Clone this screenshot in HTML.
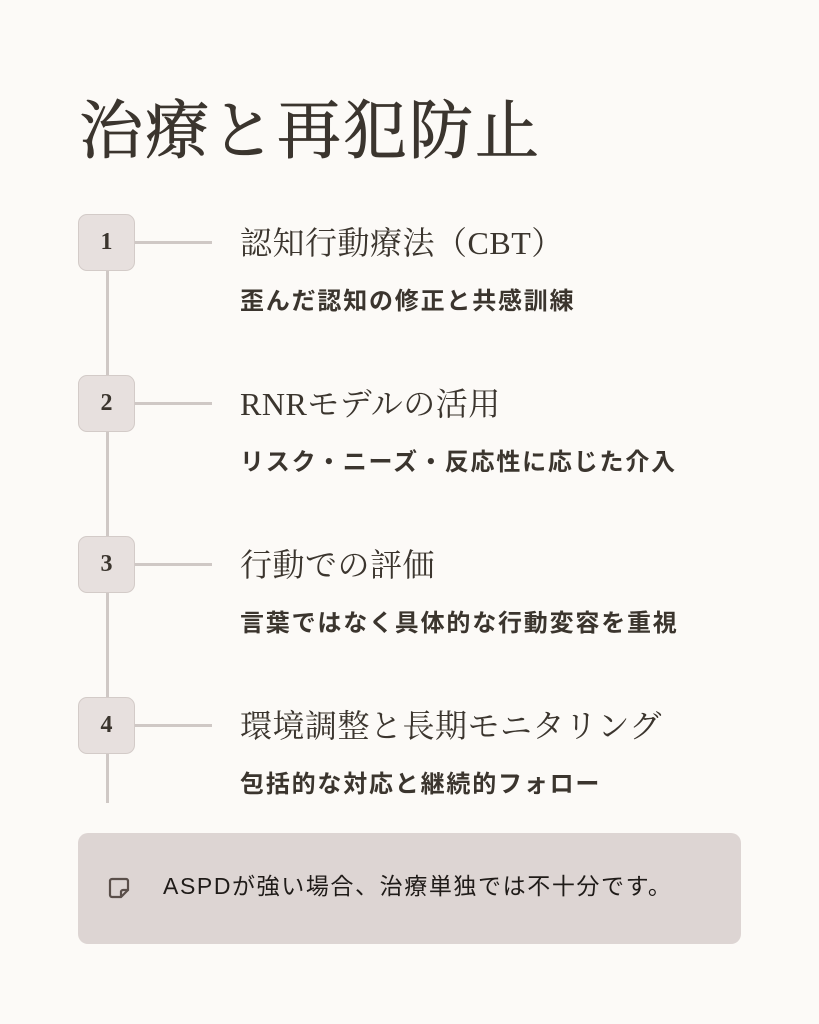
<!DOCTYPE html>
<html><head><meta charset="utf-8"><style>
body{margin:0;width:819px;height:1024px;background:#fcfaf7;position:relative;overflow:hidden;color:#3b352e}
.t{position:absolute;left:79px;top:80px;font:400 64px "Liberation Serif","Noto Serif CJK SC",serif;letter-spacing:2px;color:#3b352e;white-space:nowrap;-webkit-text-stroke:0.8px #3b352e}
.vl{position:absolute;left:106px;top:260px;width:3px;height:543px;background:#cfc8c5}
.box{position:absolute;left:78px;width:57px;height:57px;background:#e7e0de;border:1px solid #d3cbc8;border-radius:9px;box-sizing:border-box;font:700 24px "Liberation Serif",serif;color:#3b352e;display:flex;align-items:center;justify-content:center}
.hl{position:absolute;left:135px;width:77px;height:3px;background:#cfc8c5}
.st{position:absolute;left:240px;font:400 32px "Liberation Serif","Noto Serif CJK SC",serif;white-space:nowrap;line-height:1;color:#3b352e;letter-spacing:0.5px}
.sb{position:absolute;left:240px;font:700 24px "Liberation Sans","Noto Sans CJK JP",sans-serif;white-space:nowrap;line-height:1;color:#3b352e;letter-spacing:1.8px}
.note{position:absolute;left:78px;top:833px;width:663px;height:111px;background:#ddd5d3;border-radius:10px}
.nt{position:absolute;left:163px;top:875px;font:400 23px "Liberation Sans","Noto Sans CJK JP",sans-serif;white-space:nowrap;line-height:1;color:#1f1b18;letter-spacing:1.6px}
</style></head><body>
<div class="t">治療と再犯防止</div>
<div class="vl"></div>
<div class="hl" style="top:241px"></div><div class="box" style="top:214px">1</div>
<div class="st" style="top:227px">認知行動療法（CBT）</div>
<div class="sb" style="top:290px">歪んだ認知の修正と共感訓練</div>
<div class="hl" style="top:402px"></div><div class="box" style="top:375px">2</div>
<div class="st" style="top:388px">RNRモデルの活用</div>
<div class="sb" style="top:451px">リスク・ニーズ・反応性に応じた介入</div>
<div class="hl" style="top:563px"></div><div class="box" style="top:536px">3</div>
<div class="st" style="top:549px">行動での評価</div>
<div class="sb" style="top:612px">言葉ではなく具体的な行動変容を重視</div>
<div class="hl" style="top:724px"></div><div class="box" style="top:697px">4</div>
<div class="st" style="top:710px">環境調整と長期モニタリング</div>
<div class="sb" style="top:773px">包括的な対応と継続的フォロー</div>
<div class="note"></div>
<svg style="position:absolute;left:108px;top:877px" width="22" height="22" viewBox="0 0 22 22"><path d="M4 2h14a2 2 0 0 1 2 2v9l-7 7H4a2 2 0 0 1-2-2V4a2 2 0 0 1 2-2z" fill="none" stroke="#5a4f4a" stroke-width="2.2"/><path d="M13 20v-5a2 2 0 0 1 2-2h5" fill="none" stroke="#5a4f4a" stroke-width="2.2"/></svg>
<div class="nt">ASPDが強い場合、治療単独では不十分です。</div>
</body></html>
